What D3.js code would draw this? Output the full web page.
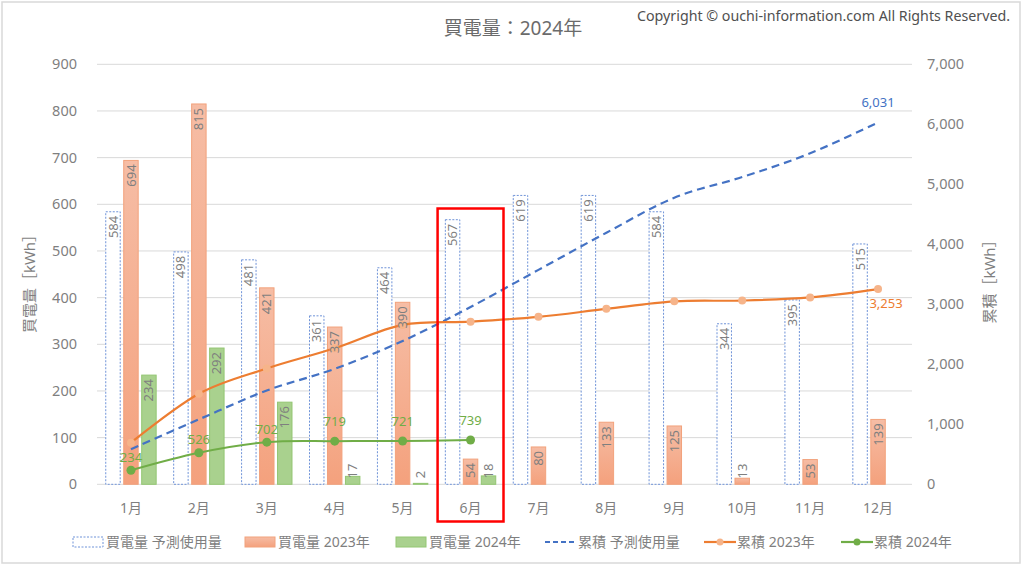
<!DOCTYPE html>
<html>
<head>
<meta charset="utf-8">
<script src="https://cdn.jsdelivr.net/npm/d3@7"></script>
<style>
body { margin: 0; background: #fff; }
text { font-family: "Noto Sans", "Noto Sans CJK JP", sans-serif; }
</style>
</head>
<body>
<svg id="chart" width="1024" height="567"></svg>
<script>
var months = ['1月', '2月', '3月', '4月', '5月', '6月', '7月', '8月', '9月', '10月', '11月', '12月']
var predUse = [584, 498, 481, 361, 464, 567, 619, 619, 584, 344, 395, 515]
var use2023 = [694, 815, 421, 337, 390, 54, 80, 133, 125, 13, 53, 139]
var use2024 = [234, 292, 176, 17, 2, 18]
var cumPred = [584, 1082, 1563, 1924, 2388, 2955, 3574, 4193, 4777, 5121, 5516, 6031]
var cum2023 = [694, 1509, 1930, 2267, 2657, 2711, 2791, 2924, 3049, 3062, 3115, 3253]
var cum2024 = [234, 526, 702, 719, 721, 739]
var leftTicks = [0, 100, 200, 300, 400, 500, 600, 700, 800, 900]
var rightTicks = [0, 1000, 2000, 3000, 4000, 5000, 6000, 7000]

var svg = d3.select('#chart')
var gray = '#7f7f7f'
var blue = '#4472c4', orange = '#ed7d31', green = '#70ad47'
var lightBlue = '#6f93d8'

// frame
svg.append('rect').attr('x', 2).attr('y', 2).attr('width', 1018).attr('height', 561)
    .attr('fill', '#fff').attr('stroke', '#d9d9d9').attr('stroke-width', 1.5)

var defs = svg.append('defs')
var grad = defs.append('linearGradient').attr('id', 'og').attr('x1', 0).attr('y1', 0).attr('x2', 0).attr('y2', 1)
grad.append('stop').attr('offset', '0%').attr('stop-color', '#f6bda5')
grad.append('stop').attr('offset', '100%').attr('stop-color', '#f4a17d')

// scales
var x0 = d3.scaleBand().domain(months).range([97, 912])
var bw = x0.bandwidth()
var x1 = d3.scaleBand().domain(['pred', 'y23', 'y24'])
    .range([bw / 2 - 25.7, bw / 2 + 25.7]).paddingInner(0.14)
var yL = d3.scaleLinear().domain([0, 900]).range([484.3, 64.3])
var yR = d3.scaleLinear().domain([0, 7000]).range([484.3, 64.3])
var cx = function (i) { return x0(months[i]) + bw / 2 }

// gridlines
svg.append('g').selectAll('line').data(leftTicks).enter().append('line')
    .attr('x1', 97).attr('x2', 912)
    .attr('y1', d => yL(d)).attr('y2', d => yL(d))
    .attr('stroke', '#d9d9d9').attr('stroke-width', 1)

// left axis
var axL = svg.append('g').attr('transform', 'translate(77,0)')
    .call(d3.axisLeft(yL).tickValues(leftTicks).tickSize(0).tickPadding(0))
axL.select('.domain').remove()
axL.selectAll('text').attr('fill', gray).attr('font-size', '14.5px')
    .style('font-family', '"Noto Sans", sans-serif')

// right axis
var axR = svg.append('g').attr('transform', 'translate(927,0)')
    .call(d3.axisRight(yR).tickValues(rightTicks).tickSize(0).tickPadding(0).tickFormat(d3.format(',')))
axR.select('.domain').remove()
axR.selectAll('text').attr('fill', gray).attr('font-size', '14.5px')
    .style('font-family', '"Noto Sans", sans-serif')

// x axis labels
svg.append('g').selectAll('text').data(months).enter().append('text')
    .attr('x', d => x0(d) + bw / 2).attr('y', 508).attr('dy', '0.35em')
    .attr('text-anchor', 'middle').attr('fill', gray).attr('font-size', '14px').text(d => d)

// axis titles
svg.append('text').attr('transform', 'translate(30,280) rotate(-90)')
    .attr('text-anchor', 'middle').attr('dy', '0.35em').attr('fill', gray).attr('font-size', '15px')
    .text('買電量［kWh］')
svg.append('text').attr('transform', 'translate(990,278) rotate(-90)')
    .attr('text-anchor', 'middle').attr('dy', '0.35em').attr('fill', gray).attr('font-size', '15px')
    .text('累積［kWh］')

// title & copyright
svg.append('text').attr('x', 513).attr('y', 35).attr('text-anchor', 'middle')
    .attr('fill', '#6b6b6b').attr('font-size', '19px').text('買電量：2024年')
svg.append('text').attr('x', 637).attr('y', 21).attr('fill', '#505050').attr('font-size', '14px')
    .attr('textLength', 373).attr('lengthAdjust', 'spacingAndGlyphs')
    .text('Copyright © ouchi-information.com All Rights Reserved.')

// bars
var series = [
    { vals: predUse, key: 'pred', fill: '#fff', stroke: lightBlue, dash: '2,1.5' },
    { vals: use2023, key: 'y23', fill: 'url(#og)', stroke: '#f2a27c', dash: null },
    { vals: use2024, key: 'y24', fill: '#a9d18e', stroke: '#93c672', dash: null }
]
series.forEach(function (s) {
    svg.append('g').selectAll('rect').data(s.vals).enter().append('rect')
        .attr('x', (d, i) => x0(months[i]) + x1(s.key) + 0.5)
        .attr('y', d => yL(d))
        .attr('width', x1.bandwidth() - 1)
        .attr('height', d => yL(0) - yL(d))
        .attr('fill', s.fill).attr('stroke', s.stroke).attr('stroke-width', 1)
        .attr('stroke-dasharray', s.dash)
})

// lines
var curve = d3.curveCardinal.tension(0)
var line = d3.line().x((d, i) => cx(i)).y(d => yR(d)).curve(curve)

svg.append('path').datum(cumPred).attr('d', line).attr('fill', 'none')
    .attr('stroke', blue).attr('stroke-width', 2.2).attr('stroke-dasharray', '8,5')

svg.append('path').datum(cum2023).attr('d', line).attr('fill', 'none')
    .attr('stroke', orange).attr('stroke-width', 2.2)
svg.append('g').selectAll('circle').data(cum2023).enter().append('circle')
    .attr('cx', (d, i) => cx(i)).attr('cy', d => yR(d)).attr('r', 4)
    .attr('fill', '#f6b48a')

svg.append('path').datum(cum2024).attr('d', line).attr('fill', 'none')
    .attr('stroke', green).attr('stroke-width', 2)
svg.append('g').selectAll('circle').data(cum2024).enter().append('circle')
    .attr('cx', (d, i) => cx(i)).attr('cy', d => yR(d)).attr('r', 4.5)
    .attr('fill', green)

// bar labels (on top of lines)
series.forEach(function (s) {
    svg.append('g').selectAll('text').data(s.vals).enter().append('text')
        .attr('transform', function (d, i) {
            var len = String(d).length * 7.4
            var ya = Math.min(yL(d) + 4, yL(0) - 6 - len)
            return 'translate(' + (x0(months[i]) + x1(s.key) + x1.bandwidth() / 2) + ',' + ya + ') rotate(-90)'
        })
        .attr('text-anchor', 'end').attr('dy', '0.35em')
        .attr('fill', gray).attr('font-size', '13px').text(d => d)
})

// line labels
svg.append('g').selectAll('text').data(cum2024).enter().append('text')
    .attr('x', (d, i) => cx(i))
    .attr('y', (d, i) => yR(d) - (i < 3 ? 13 : 20))
    .attr('dy', '0.35em').attr('text-anchor', 'middle')
    .attr('fill', green).attr('font-size', '13px').text(d => d)

var last = cumPred.length - 1
svg.append('text').attr('x', cx(last)).attr('y', yR(cumPred[last]) - 20).attr('dy', '0.35em')
    .attr('text-anchor', 'middle').attr('fill', blue).attr('font-size', '13px')
    .text(d3.format(',')(cumPred[last]))
svg.append('text').attr('x', cx(last) + 8).attr('y', yR(cum2023[last]) + 14).attr('dy', '0.35em')
    .attr('text-anchor', 'middle').attr('fill', orange).attr('font-size', '13px')
    .text(d3.format(',')(cum2023[last]))

// red highlight around June
svg.append('rect').attr('x', x0('6月') + 1).attr('y', 208.5)
    .attr('width', bw - 2).attr('height', 313)
    .attr('fill', 'none').attr('stroke', '#ff0000').attr('stroke-width', 2.5)

// legend
var legend = [
    { name: '買電量 予測使用量', type: 'box', fill: '#fff', stroke: lightBlue, dash: '2,1.5', x: 73 },
    { name: '買電量 2023年', type: 'box', fill: 'url(#og)', stroke: '#f2a27c', x: 245 },
    { name: '買電量 2024年', type: 'box', fill: '#a9d18e', stroke: '#93c672', x: 396 },
    { name: '累積 予測使用量', type: 'line', stroke: blue, dash: '5,3', x: 545 },
    { name: '累積 2023年', type: 'line', stroke: orange, dot: '#f6b48a', x: 704 },
    { name: '累積 2024年', type: 'line', stroke: green, dot: green, x: 841 }
]
var ly = 542
var lg = svg.append('g').selectAll('g').data(legend).enter().append('g')
lg.each(function (d) {
    var g = d3.select(this)
    if (d.type === 'box') {
        g.append('rect').attr('x', d.x).attr('y', ly - 5).attr('width', 30).attr('height', 10)
            .attr('fill', d.fill).attr('stroke', d.stroke).attr('stroke-dasharray', d.dash || null)
    } else {
        g.append('line').attr('x1', d.x).attr('x2', d.x + 32).attr('y1', ly).attr('y2', ly)
            .attr('stroke', d.stroke).attr('stroke-width', 2.2).attr('stroke-dasharray', d.dash || null)
        if (d.dot) g.append('circle').attr('cx', d.x + 16).attr('cy', ly).attr('r', 3.5).attr('fill', d.dot)
    }
    g.append('text').attr('x', d.x + 33).attr('y', ly).attr('dy', '0.35em')
        .attr('fill', gray).attr('font-size', '14px').text(d.name)
})
</script>
</body>
</html>
